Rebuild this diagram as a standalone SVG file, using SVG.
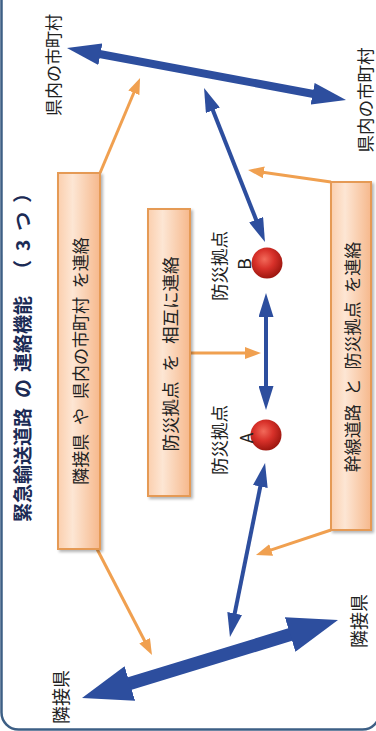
<svg xmlns="http://www.w3.org/2000/svg" width="376" height="731" viewBox="0 0 376 731">
<style>
  text { font-family: "Noto Sans CJK JP", "Noto Sans", sans-serif; fill: #222; text-anchor: middle; dominant-baseline: central; }
  .title { font-weight: bold; fill: #1b2b55; font-size: 19px; text-anchor: start; }
  .lbl { font-size: 17.5px; }
  .boxt { font-size: 17px; word-spacing: 5px; }
  .box { fill: url(#boxg); stroke: #e59a55; stroke-width: 2; filter: url(#sh); }
  .oa { fill: none; stroke: #f0a050; stroke-width: 3; marker-end: url(#mo); }
  .ba { fill: none; stroke: #2d4e9e; stroke-width: 4; marker-start: url(#mb); marker-end: url(#mb); }
  .sphere { fill: url(#sg); }
</style>
<defs>
  <linearGradient id="boxg" x1="0" y1="0" x2="1" y2="0">
    <stop offset="0" stop-color="#fbcfae"/>
    <stop offset="0.35" stop-color="#fde6d4"/>
    <stop offset="1" stop-color="#f6b88c"/>
  </linearGradient>
  <radialGradient id="sg" cx="0.42" cy="0.38" r="0.62">
    <stop offset="0" stop-color="#f26a5a"/>
    <stop offset="0.5" stop-color="#d8312a"/>
    <stop offset="1" stop-color="#9e1710"/>
  </radialGradient>
  <filter id="sh" x="-20%" y="-5%" width="150%" height="115%">
    <feGaussianBlur in="SourceAlpha" stdDeviation="1.5"/>
    <feOffset dx="2" dy="2" result="b"/>
    <feComponentTransfer><feFuncA type="linear" slope="0.3"/></feComponentTransfer>
    <feMerge><feMergeNode/><feMergeNode in="SourceGraphic"/></feMerge>
  </filter>
  <marker id="mo" markerUnits="userSpaceOnUse" markerWidth="16" markerHeight="12" refX="3" refY="6" orient="auto">
    <path d="M0,0 L16,6 L0,12 z" fill="#f0a050"/>
  </marker>
  <marker id="mb" markerUnits="userSpaceOnUse" markerWidth="24" markerHeight="15" refX="4" refY="7.5" orient="auto-start-reverse">
    <path d="M0,0 L24,7.5 L0,15 z" fill="#2d4e9e"/>
  </marker>
  <marker id="mbt" markerUnits="userSpaceOnUse" markerWidth="34" markerHeight="22" refX="5" refY="11" orient="auto-start-reverse">
    <path d="M0,0 L34,11 L0,22 z" fill="#2d4e9e"/>
  </marker>
  <marker id="mbb" markerUnits="userSpaceOnUse" markerWidth="50" markerHeight="36" refX="6" refY="18" orient="auto-start-reverse">
    <path d="M0,0 L50,18 L0,36 z" fill="#2d4e9e"/>
  </marker>
</defs>
<rect x="0" y="0" width="376" height="731" fill="#ffffff"/>
<rect id="frame" x="1.5" y="-30" width="378" height="759.5" rx="17" fill="none" stroke="#3d5f85" stroke-width="2.5"/>

<g id="title">
  <text class="title" transform="translate(21,522) rotate(-90)"><tspan x="0">緊急輸送道路</tspan><tspan x="124">の</tspan><tspan x="150">連絡機能</tspan><tspan x="243" letter-spacing="9">（3つ）</tspan></text>
</g>

<g id="connectors">
  <path class="oa" d="M100,173 L135,90"/>
  <path class="oa" d="M97,549 L146,643.5"/>
  <path class="oa" d="M190,353 L248,353"/>
  <path class="oa" d="M331,182 L260.9,171.9"/>
  <path class="oa" d="M331,530 L268.3,550.9"/>
  <path class="ba" d="M211.4,106.6 L257.6,223.4"/>
  <path class="ba" d="M266,313 L266,390"/>
  <path class="ba" d="M261.1,482.6 L233.9,617.4"/>
  <path fill="none" stroke="#2d4e9e" stroke-width="8" marker-start="url(#mbt)" marker-end="url(#mbt)" d="M95.5,53.3 L317.5,94.7"/>
  <path fill="none" stroke="#2d4e9e" stroke-width="13" marker-start="url(#mbb)" marker-end="url(#mbb)" d="M124.1,685.2 L295.9,632.8"/>
</g>

<g id="box1">
  <rect class="box" x="58" y="173" width="42" height="376"/>
  <text class="boxt" transform="translate(79,361) rotate(-90)">隣接県 や 県内の市町村 を連絡</text>
</g>
<g id="box2">
  <rect class="box" x="148" y="209" width="42" height="287"/>
  <text class="boxt" style="font-size:17.5px;word-spacing:6px" transform="translate(169,354) rotate(-90)">防災拠点 を 相互に連絡</text>
</g>
<g id="box3">
  <rect class="box" x="331" y="182" width="40" height="348"/>
  <text class="boxt" transform="translate(351,357) rotate(-90)">幹線道路 と 防災拠点 を連絡</text>
</g>

<g id="baseA">
  <circle class="sphere" cx="266" cy="435" r="15.5"/>
  <text class="lbl" transform="translate(218,440) rotate(-90)">防災拠点</text>
  <text class="lbl" transform="translate(245,438) rotate(-90)">A</text>
</g>
<g id="baseB">
  <circle class="sphere" cx="267" cy="263" r="15.5"/>
  <text class="lbl" transform="translate(218,266) rotate(-90)">防災拠点</text>
  <text class="lbl" transform="translate(243,264) rotate(-90)">B</text>
</g>

<g id="city-left"><text style="font-size:17px" transform="translate(52,65) rotate(-90)">県内の市町村</text></g>
<g id="city-right"><text style="font-size:17.5px" transform="translate(364,100) rotate(-90)">県内の市町村</text></g>
<g id="pref-left"><text style="font-size:18px" transform="translate(60,697) rotate(-90)">隣接県</text></g>
<g id="pref-right"><text style="font-size:18px" transform="translate(358,621) rotate(-90)">隣接県</text></g>
</svg>
